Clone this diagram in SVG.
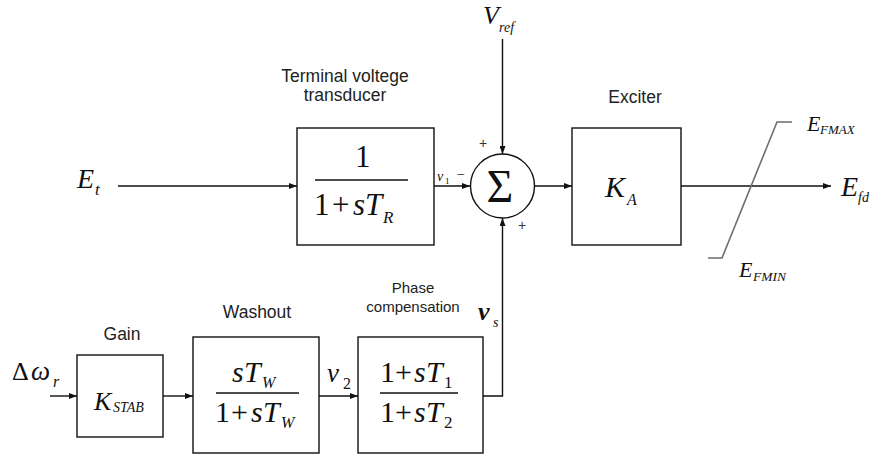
<svg xmlns="http://www.w3.org/2000/svg" width="874" height="455" viewBox="0 0 874 455">
<style>
.box{fill:#fff;stroke:#111;stroke-width:1.4}
.ln{fill:none;stroke:#111;stroke-width:1.4}
.lim{fill:none;stroke:#6e6e6e;stroke-width:1.6}
.lbl{font-family:"Liberation Sans",Arial,sans-serif;font-size:17.5px;fill:#222;text-anchor:middle}
.lbs{font-family:"Liberation Sans",Arial,sans-serif;font-size:15px;fill:#222;text-anchor:middle}
.m{font-family:"Liberation Serif","Times New Roman",serif;fill:#111}
.i{font-style:italic}
.pm{font-family:"Liberation Sans",Arial,sans-serif;font-size:14px;fill:#333;text-anchor:middle}
</style>
<defs>
<marker id="ah" markerWidth="8" markerHeight="6" refX="8" refY="3" orient="auto" markerUnits="userSpaceOnUse">
<path d="M0,0 L8,3 L0,6 z" fill="#111"/>
</marker>
</defs>
<rect width="874" height="455" fill="#fff"/>

<g id="connectors">
<line class="ln" x1="118" y1="186" x2="297" y2="186" marker-end="url(#ah)"/>
<line class="ln" x1="434" y1="186" x2="470" y2="186" marker-end="url(#ah)"/>
<line class="ln" x1="502.5" y1="39" x2="502.5" y2="154" marker-end="url(#ah)"/>
<line class="ln" x1="534.5" y1="186" x2="572" y2="186" marker-end="url(#ah)"/>
<line class="ln" x1="681" y1="186" x2="831" y2="186" marker-end="url(#ah)"/>
<line class="ln" x1="50" y1="396" x2="77" y2="396" marker-end="url(#ah)"/>
<line class="ln" x1="163" y1="396" x2="193" y2="396" marker-end="url(#ah)"/>
<line class="ln" x1="319" y1="396" x2="358" y2="396" marker-end="url(#ah)"/>
<path class="ln" d="M483,396 H502.5 V218" marker-end="url(#ah)"/>
</g>

<g id="limiter">
<polyline class="lim" points="708,258 722,258 777,122 792,122"/>
<text class="m i" x="807" y="131" font-size="22">E</text>
<text class="m i" x="820" y="134" font-size="13">FMAX</text>
<text class="m i" x="739" y="277" font-size="22">E</text>
<text class="m i" x="753" y="281" font-size="13.5">FMIN</text>
</g>

<g id="input-Et">
<text class="m i" x="77" y="188" font-size="28">E</text>
<text class="m i" x="95" y="195" font-size="17">t</text>
</g>

<g id="transducer">
<text class="lbl" x="345" y="82">Terminal voltege</text>
<text class="lbl" x="345" y="101">transducer</text>
<rect class="box" x="297" y="128" width="137" height="117"/>
<text class="m" x="355" y="167" font-size="31">1</text>
<line class="ln" x1="315" y1="180" x2="408" y2="180"/>
<text class="m" x="314" y="215" font-size="31">1</text>
<text class="m" x="332" y="215" font-size="31">+</text>
<text class="m i" x="353" y="215" font-size="31">s</text>
<text class="m i" x="365" y="215" font-size="31">T</text>
<text class="m i" x="383" y="223" font-size="17">R</text>
</g>

<g id="vref">
<text class="m i" x="483" y="24" font-size="26">V</text>
<text class="m i" x="499" y="32" font-size="14">ref</text>
</g>

<g id="sum">
<circle cx="502.5" cy="186" r="32" fill="#fff" stroke="#111" stroke-width="1.4"/>
<text class="m" x="500" y="202" font-size="46" text-anchor="middle">Σ</text>
<text class="pm" x="483" y="148">+</text>
<text class="pm" x="522" y="230">+</text>
<text class="m i" x="437" y="181" font-size="14">v</text>
<text class="m" x="445" y="184" font-size="9">1</text>
<text class="m" x="461" y="179" font-size="14" text-anchor="middle">−</text>
</g>

<g id="exciter">
<text class="lbl" x="635" y="103">Exciter</text>
<rect class="box" x="572" y="128" width="109" height="117"/>
<text class="m i" x="605" y="197" font-size="30">K</text>
<text class="m i" x="627" y="205" font-size="16">A</text>
</g>

<g id="output-Efd">
<text class="m i" x="841" y="196" font-size="28">E</text>
<text class="m i" x="858" y="202" font-size="14">fd</text>
</g>

<g id="input-dw">
<text class="m" x="12" y="380" font-size="26">Δ</text>
<text class="m i" x="31" y="380" font-size="27">ω</text>
<text class="m i" x="53" y="387" font-size="16">r</text>
</g>

<g id="gain">
<text class="lbl" x="122" y="340">Gain</text>
<rect class="box" x="77" y="355" width="86" height="82"/>
<text class="m i" x="94" y="410" font-size="26">K</text>
<text class="m i" x="113" y="412" font-size="14">STAB</text>
</g>

<g id="washout">
<text class="lbl" x="257" y="318">Washout</text>
<rect class="box" x="193" y="337" width="126" height="116"/>
<text class="m i" x="232" y="382" font-size="30">s</text>
<text class="m i" x="244" y="382" font-size="30">T</text>
<text class="m i" x="262" y="388" font-size="16">W</text>
<line class="ln" x1="216" y1="393" x2="299" y2="393"/>
<text class="m" x="215" y="422" font-size="30">1</text>
<text class="m" x="231" y="422" font-size="30">+</text>
<text class="m i" x="251" y="422" font-size="30">s</text>
<text class="m i" x="263" y="422" font-size="30">T</text>
<text class="m i" x="281" y="428" font-size="16">W</text>
<text class="m i" x="327" y="382" font-size="27">v</text>
<text class="m" x="343" y="389" font-size="16">2</text>
</g>

<g id="phase">
<text class="lbs" x="413" y="293">Phase</text>
<text class="lbs" x="413" y="312">compensation</text>
<rect class="box" x="358" y="337" width="125" height="116"/>
<text class="m" x="380" y="382" font-size="30">1</text>
<text class="m" x="395" y="382" font-size="30">+</text>
<text class="m i" x="414" y="382" font-size="30">s</text>
<text class="m i" x="426" y="382" font-size="30">T</text>
<text class="m" x="444" y="388" font-size="17">1</text>
<line class="ln" x1="380" y1="393" x2="458" y2="393"/>
<text class="m" x="380" y="422" font-size="30">1</text>
<text class="m" x="395" y="422" font-size="30">+</text>
<text class="m i" x="414" y="422" font-size="30">s</text>
<text class="m i" x="426" y="422" font-size="30">T</text>
<text class="m" x="444" y="428" font-size="17">2</text>
<text class="m i" x="478" y="320" font-size="26" font-weight="bold">v</text>
<text class="m i" x="493" y="327" font-size="14">s</text>
</g>
</svg>
